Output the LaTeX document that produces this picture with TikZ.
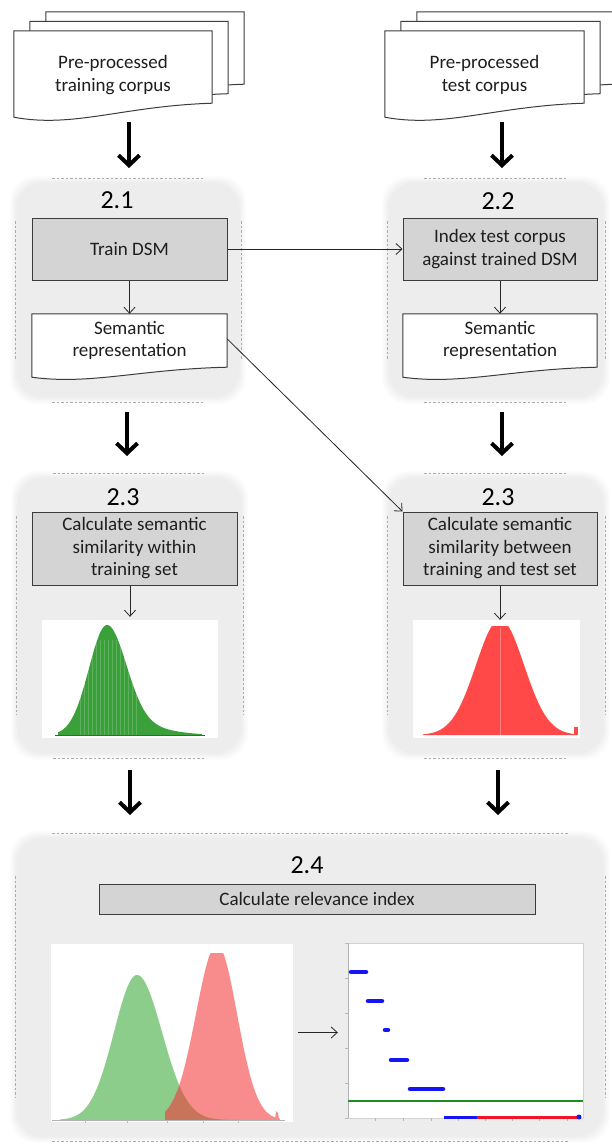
\documentclass[tikz,border=0pt]{standalone}
\usepackage{fontspec}
\setmainfont{Carlito}
\usetikzlibrary{arrows.meta,calc}
\pgfdeclarelayer{bg}
\pgfdeclarelayer{mid}
\pgfsetlayers{bg,mid,main}

\definecolor{txt}{HTML}{1E1E1E}
\definecolor{boxfill}{HTML}{D4D4D4}
\definecolor{edge}{HTML}{3C3C3C}
\definecolor{hgreen}{RGB}{58,160,58}
\definecolor{hred}{RGB}{255,72,72}
\definecolor{lgreen}{RGB}{140,205,140}
\definecolor{lred}{RGB}{248,140,140}
\definecolor{brownov}{RGB}{192,112,82}
\definecolor{dotblue}{RGB}{20,20,245}
\definecolor{lineGreen}{RGB}{30,140,30}
\definecolor{lineRed}{RGB}{240,20,40}

\tikzset{
  every node/.style={text=txt, font=\fontsize{19}{22.5}\selectfont},
  graybox/.style={draw=edge, line width=1pt, fill=boxfill, inner sep=0pt, align=center},
  docnode/.style={inner sep=0pt, align=center},
  docline/.style={draw=edge, line width=1pt, fill=white},
  steplabel/.style={font=\fontsize{26}{30}\selectfont, text=black, inner sep=0pt},
  bigarrow/.style={line width=4pt, -{Straight Barb[length=10pt,width=21pt]}},
  thinarrow/.style={line width=0.8pt, draw=black!85, -{Straight Barb[length=6pt,width=11pt]}},
  grpdash/.style={draw=gray!65, line width=0.5pt, dash pattern=on 2.5pt off 2pt},
  plotbg/.style={fill=white, draw=gray!15, line width=0.4pt, inner sep=0pt},
  tickmark/.style={draw=gray!55, line width=0.5pt},
  declare function={
    gA(\x)=145*exp(-(\x-137)*(\x-137)/ifthenelse(\x<137,1058,1250));
    rA(\x)=167*min(1,1.05*exp(-(\x-217)*(\x-217)/ifthenelse(\x<217,882,800)));
  }
}

\newcommand\stepgroup[4]{%
  \foreach \i in {0,...,5}{
    \fill[black, opacity=0.011, rounded corners=26pt] ({#1+\i*1.3},{#2+\i*1.3}) rectangle ({#3-\i*1.3},{#4-\i*1.3});
  }
  \draw[grpdash] ({#1+42},{#2+2}) -- ({#3-42},{#2+2});
  \draw[grpdash] ({#1+42},{#4-2}) -- ({#3-42},{#4-2});
  \draw[grpdash] ({#1+5},{#2+45}) -- ({#1+5},{#4-45});
  \draw[grpdash] ({#3-5},{#2+45}) -- ({#3-5},{#4-45});
}

\newcommand\docshp[4]{%
  \filldraw[docline] ($(#1.north west)+(#2,#3)$) -- ($(#1.north east)+(#2,#3)$) -- ($(#1.south east)+(#2,#3)$)
   .. controls ($(#1.south west)!0.55!(#1.south east)+(#2,{#3+0.2*#4})$) and ($(#1.south west)!0.3!(#1.south east)+(#2,{#3+1.8*#4})$) .. ($(#1.south west)+(#2,{#3+#4})$) -- cycle;
}

\begin{document}
\begin{tikzpicture}[x=1pt,y=-1pt]
\useasboundingbox (0,0) rectangle (612,1144);

% ---------- group backgrounds ----------
\begin{pgfonlayer}{bg}
  \fill[white] (0,0) rectangle (612,1144);
  \stepgroup{10}{176}{246}{404}
  \stepgroup{382}{176}{610}{404}
  \stepgroup{11}{471}{248}{760}
  \stepgroup{382}{471}{610}{760}
  \stepgroup{10}{831}{610}{1143}
\end{pgfonlayer}

% ---------- corpus stacks ----------
\node[docnode, minimum width=198pt, minimum height=72pt] (trainDoc) at (113,67) {};
\node[docnode, minimum width=199pt, minimum height=72pt] (testDoc) at (484.5,67) {};
\begin{pgfonlayer}{mid}
  \docshp{trainDoc}{32}{-19}{14}
  \docshp{trainDoc}{16}{-9.5}{14}
  \docshp{trainDoc}{0}{0}{14}
  \docshp{testDoc}{32}{-19}{14}
  \docshp{testDoc}{16}{-9.5}{14}
  \docshp{testDoc}{0}{0}{14}
\end{pgfonlayer}
\node[align=center, inner sep=0pt] (trainTxt) at (113,75) {Pre-processed\\training corpus};
\node[align=center, inner sep=0pt] (testTxt) at (484.5,75) {Pre-processed\\test corpus};

% ---------- step labels ----------
\node[steplabel] (l21) at (117,200) {2.1};
\node[steplabel] (l22) at (498,201) {2.2};
\node[steplabel] (l23a) at (123,497) {2.3};
\node[steplabel] (l23b) at (498,497) {2.3};
\node[steplabel] (l24) at (307,865) {2.4};

% ---------- process boxes ----------
\node[graybox, minimum width=195pt, minimum height=62pt] (trainDSM) at (129.5,249) {Train DSM};
\node[graybox, minimum width=194pt, minimum height=62pt] (indexDSM) at (500,249) {Index test corpus\\against trained DSM};
\node[docnode, minimum width=195pt, minimum height=53pt] (semL) at (129.5,340.5) {Semantic\\representation};
\node[docnode, minimum width=194pt, minimum height=53pt] (semR) at (500,340.5) {Semantic\\representation};
\begin{pgfonlayer}{mid}
  \docshp{semL}{0}{0}{10}
  \docshp{semR}{0}{0}{10}
\end{pgfonlayer}
\node[graybox, minimum width=205pt, minimum height=73pt] (calcL) at (134.5,548.5) {Calculate semantic\\similarity within\\training set};
\node[graybox, minimum width=194pt, minimum height=73pt] (calcR) at (500,548.5) {Calculate semantic\\similarity between\\training and test set};
\node[graybox, minimum width=436pt, minimum height=30pt] (relIdx) at (317,899) {Calculate relevance index};

% ---------- plot areas ----------
\node[plotbg, draw=none, minimum width=176pt, minimum height=118pt] (histL) at (130,679) {};
\node[plotbg, draw=none, minimum width=167pt, minimum height=118pt] (histR) at (496.5,679) {};
\node[plotbg, minimum width=243pt, minimum height=179pt] (plotA) at (171.5,1032.5) {};
\node[plotbg, draw=gray!35, minimum width=235pt, minimum height=175pt] (plotB) at (465.5,1030.5) {};

% small green histogram
\fill[hgreen] (58,735) -- plot[domain=58:107, samples=60] (\x,{735-110*exp(-0.5*(\x-107)*(\x-107)/324)})
  -- plot[domain=107:202, samples=90] (\x,{735-110*(0.85*exp(-0.5*(\x-107)*(\x-107)/361)+0.15*exp(-0.5*(\x-107)*(\x-107)/1600))}) -- (202,735) -- cycle;
\foreach \k in {80,84,...,136}{\draw[white, opacity=0.18, line width=0.4pt] (\k,640) -- (\k,735);}
\draw[hgreen!70!black, line width=0.6pt] (55,735) -- (205,735);

% small red histogram
\fill[hred] (423,735) -- plot[domain=423:577, samples=120] (\x,{735-109*min(1,1.06*exp(-(\x-500)*(\x-500)/1152))}) -- (577,735) -- cycle;
\fill[hred] (574,735) rectangle (578,727);
\draw[white, opacity=0.3, line width=0.5pt] (500,628) -- (500,735);

% overlapping histograms
\fill[lgreen] (60,1120) -- plot[domain=60:245, samples=150] (\x,{1120-gA(\x)}) -- (245,1120) -- cycle;
\fill[lred] (165,1120) -- plot[domain=165:280, samples=150] (\x,{1120-rA(\x)}) -- (280,1120) -- cycle;
\fill[lred] (275,1120) -- (276,1111) -- (278,1113) -- (279,1120) -- cycle;
\fill[brownov, opacity=0.85] (165,1120) -- plot[domain=165:245, samples=100] (\x,{1120-min(gA(\x),rA(\x))}) -- (245,1120) -- cycle;
\draw[gray!60, line width=0.5pt] (52,1120) -- (285,1120);
\foreach \k in {85,127,167,203,238}{\draw[tickmark] (\k,1120) -- (\k,1123);}

% relevance plot
\draw[gray!60, line width=0.6pt] (plotB.north west) -- (plotB.south west);
\foreach \k in {943,978,1013,1048,1083,1118}{\draw[tickmark] (348,\k) -- (345,\k);}
\foreach \k in {375,403,431,458,485,512,539,567}{\draw[tickmark] (\k,1118) -- (\k,1121);}
\begin{scope}[dotblue, line width=4.5pt, line cap=round]
  \draw (351,972) -- (366,972);
  \draw (368,1001) -- (382,1001);
  \draw (385,1030) -- (388,1030);
  \draw (391,1060) -- (407,1060);
  \draw (410,1089) -- (443,1089);
\end{scope}
\draw[lineGreen, line width=2pt] (348,1101) -- (583,1101);
\draw[dotblue, line width=3pt] (444,1117) -- (477,1117);
\draw[lineRed, line width=3pt] (477,1117) -- (577,1117);
\fill[dotblue] (579,1117) circle (2.5);

% ---------- connectors ----------
\draw[thinarrow] (trainDSM) -- (semL);
\draw[thinarrow] (indexDSM) -- (semR);
\draw[thinarrow] (trainDSM.east) -- (indexDSM.west);
\draw[thinarrow] ($(semL.north east)!0.47!(semL.south east)$) -- (calcR.north west);
\draw[thinarrow, shorten >=3pt] (calcL.south -| histL.north) -- (histL.north);
\draw[thinarrow] (calcR.south) -- (calcR.south |- histR.north);
\draw[thinarrow, shorten <=5pt, shorten >=10pt] (plotA.east) -- (plotA.east -| plotB.west);

% thick flow arrows
\coordinate (t1s) at (129,122); \coordinate (t1e) at (129,168);
\coordinate (t2s) at (502,122); \coordinate (t2e) at (502,168);
\coordinate (t3s) at (127,412); \coordinate (t3e) at (127,456);
\coordinate (t4s) at (502,412); \coordinate (t4e) at (502,456);
\coordinate (t5s) at (130,770); \coordinate (t5e) at (130,815);
\coordinate (t6s) at (498,770); \coordinate (t6e) at (498,815);
\draw[bigarrow] (t1s) -- (t1e);
\draw[bigarrow] (t2s) -- (t2e);
\draw[bigarrow] (t3s) -- (t3e);
\draw[bigarrow] (t4s) -- (t4e);
\draw[bigarrow] (t5s) -- (t5e);
\draw[bigarrow] (t6s) -- (t6e);
\end{tikzpicture}
\end{document}
